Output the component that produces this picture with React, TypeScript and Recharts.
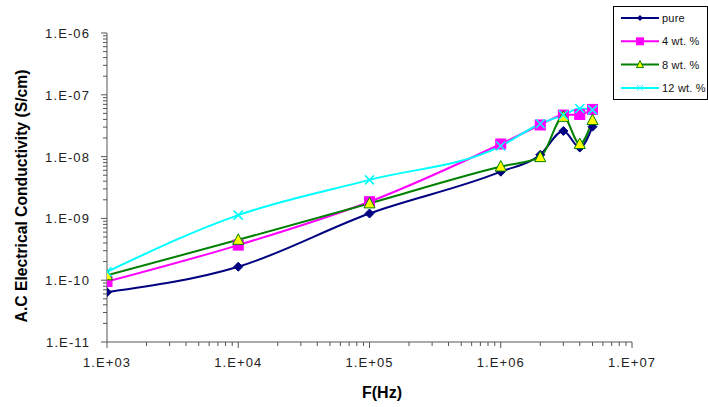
import { LineChart, Line, XAxis, YAxis } from 'recharts';

const freq = [1e3, 1e4, 1e5, 1e6, 2e6, 3e6, 4e6, 5e6];
const pure = [6.4e-11, 1.65e-10, 1.2e-9, 5.7e-9, 1.07e-8, 2.6e-8, 1.4e-8, 3.05e-8];
const wt4 = [9.5e-11, 3.7e-10, 1.86e-9, 1.6e-8, 3.25e-8, 4.7e-8, 4.8e-8, 5.8e-8];
const wt8 = [1.2e-10, 4.5e-10, 1.75e-9, 6.9e-9, 9.8e-9, 4.4e-8, 1.6e-8, 3.9e-8];
const wt12 = [1.37e-10, 1.13e-9, 4.2e-9, 1.48e-8, 3.4e-8, 4.7e-8, 6.0e-8, 5.7e-8];

const xDecades = [1e3, 1e4, 1e5, 1e6, 1e7];
const yDecades = [1e-11, 1e-10, 1e-9, 1e-8, 1e-7, 1e-6];
const xLabels = ['1.E+03', '1.E+04', '1.E+05', '1.E+06', '1.E+07'];
const yLabels = ['1.E-11', '1.E-10', '1.E-09', '1.E-08', '1.E-07', '1.E-06'];

const data = freq.map((f, i) => ({ f, pure: pure[i], wt4: wt4[i], wt8: wt8[i], wt12: wt12[i] }));

// major + minor (2..9) ticks for each decade
const withMinor = (decades: number[]) => {
  const out: number[] = [];
  decades.forEach((d, i) => {
    out.push(d);
    if (i < decades.length - 1) for (let k = 2; k <= 9; k++) out.push(d * k);
  });
  return out;
};
const xTicks = withMinor(xDecades);
const yTicks = withMinor(yDecades);

const isMajor = (v: number, list: number[]) => list.findIndex(d => Math.abs(v / d - 1) < 1e-6);

const font = '"Liberation Sans", Arial, sans-serif';

const XTick = (props: any) => {
  const { x, y, payload } = props;
  const idx = isMajor(payload.value, xDecades);
  return (
    <g>
      <line x1={x} x2={x} y1={y - 8} y2={y - 8 + (idx >= 0 ? 6 : 4)} stroke="#555" />
      {idx >= 0 && (
        <text x={x} y={y + 17} textAnchor="middle" fontSize={13} letterSpacing={1.1} fill="#222" fontFamily={font}>
          {xLabels[idx]}
        </text>
      )}
    </g>
  );
};

const YTick = (props: any) => {
  const { x, y, payload } = props;
  const idx = isMajor(payload.value, yDecades);
  return (
    <g>
      <line x1={x + 8} x2={x + 8 - (idx >= 0 ? 6 : 4)} y1={y} y2={y} stroke="#555" />
      {idx >= 0 && (
        <text x={x - 9} y={y + 5} textAnchor="end" fontSize={13} letterSpacing={1.1} fill="#222" fontFamily={font}>
          {yLabels[idx]}
        </text>
      )}
    </g>
  );
};

const Diamond = (p: any) => {
  const { cx, cy } = p;
  if (cx == null || cy == null) return null;
  const r = 4.5;
  return <path d={`M${cx},${cy - r}L${cx + r},${cy}L${cx},${cy + r}L${cx - r},${cy}Z`} fill="#000080" stroke="#000080" />;
};
const Square = (p: any) => {
  const { cx, cy } = p;
  if (cx == null || cy == null) return null;
  return <rect x={cx - 5} y={cy - 5} width={10} height={10} fill="#FF00FF" stroke="#FF00FF" />;
};
const Triangle = (p: any) => {
  const { cx, cy } = p;
  if (cx == null || cy == null) return null;
  return <path d={`M${cx},${cy - 6}L${cx + 5.5},${cy + 4.5}L${cx - 5.5},${cy + 4.5}Z`} fill="#FFFF00" stroke="#008000" strokeWidth={1} />;
};
const Cross = (p: any) => {
  const { cx, cy } = p;
  if (cx == null || cy == null) return null;
  const r = 4.5;
  return <path d={`M${cx - r},${cy - r}L${cx + r},${cy + r}M${cx - r},${cy + r}L${cx + r},${cy - r}`} stroke="#00FFFF" strokeWidth={1.5} />;
};

const legendItems = [
  { name: 'pure', color: '#000080', marker: 'diamond' },
  { name: '4 wt. %', color: '#FF00FF', marker: 'square' },
  { name: '8 wt. %', color: '#008000', marker: 'triangle' },
  { name: '12 wt. %', color: '#00FFFF', marker: 'cross' },
];

const LegendBox = () => (
  <div style={{ position: 'absolute', left: 613, top: 6, border: '1px solid #000', background: '#fff', width: 95, height: 94, boxSizing: 'border-box' }}>
    <svg width={93} height={92} style={{ display: 'block' }}>
      {legendItems.map((it, i) => {
        const cy = 11 + i * 23.3;
        const cx = 26;
        return (
          <g key={it.name}>
            <line x1={7} x2={45} y1={cy} y2={cy} stroke={it.color} strokeWidth={2} />
            {it.marker === 'diamond' && <path d={`M${cx},${cy - 3}L${cx + 3},${cy}L${cx},${cy + 3}L${cx - 3},${cy}Z`} fill={it.color} />}
            {it.marker === 'square' && <rect x={cx - 4} y={cy - 4} width={8} height={8} fill={it.color} />}
            {it.marker === 'triangle' && <path d={`M${cx},${cy - 4}L${cx + 3.5},${cy + 3}L${cx - 3.5},${cy + 3}Z`} fill="#FFFF00" stroke={it.color} />}
            {it.marker === 'cross' && <path d={`M${cx - 3},${cy - 3}L${cx + 3},${cy + 3}M${cx - 3},${cy + 3}L${cx + 3},${cy - 3}`} stroke={it.color} />}
            <text x={48} y={cy + 4} fontSize={11} letterSpacing={0.2} fill="#111" fontFamily={font}>{it.name}</text>
          </g>
        );
      })}
    </svg>
  </div>
);

export default function App() {
  return (
    <div style={{ position: 'absolute', left: 0, top: 0, width: 708, height: 407, overflow: 'hidden', background: '#fff' }}>
      <LineChart width={708} height={407} data={data} margin={{ top: 33, right: 76, bottom: 0, left: 0 }}>
        <XAxis
          dataKey="f"
          type="number"
          scale="log"
          domain={[1e3, 1e7]}
          ticks={xTicks}
          interval={0}
          tick={<XTick />}
          tickLine={false}
          stroke="#555"
          height={65}
          allowDataOverflow
        />
        <YAxis
          type="number"
          scale="log"
          domain={[1e-11, 1e-6]}
          ticks={yTicks}
          interval={0}
          tick={<YTick />}
          tickLine={false}
          stroke="#555"
          width={107}
          allowDataOverflow
        />
        <Line dataKey="pure" name="pure" type="monotone" stroke="#000080" strokeWidth={2} dot={<Diamond />} isAnimationActive={false} />
        <Line dataKey="wt4" name="4 wt. %" type="monotone" stroke="#FF00FF" strokeWidth={2} dot={<Square />} isAnimationActive={false} />
        <Line dataKey="wt8" name="8 wt. %" type="monotone" stroke="#008000" strokeWidth={2} dot={<Triangle />} isAnimationActive={false} />
        <Line dataKey="wt12" name="12 wt. %" type="monotone" stroke="#00FFFF" strokeWidth={2} dot={<Cross />} isAnimationActive={false} />
      </LineChart>
      <LegendBox />
      <div style={{ position: 'absolute', left: 22, top: 196, transform: 'translate(-50%, -50%) rotate(-90deg)', whiteSpace: 'nowrap', fontFamily: font, fontWeight: 'bold', fontSize: 15.7 }}>
        A.C Electrical Conductivity (S/cm)
      </div>
      <div style={{ position: 'absolute', left: 382, top: 393, transform: 'translate(-50%, -50%)', whiteSpace: 'nowrap', fontFamily: font, fontWeight: 'bold', fontSize: 16 }}>
        F(Hz)
      </div>
    </div>
  );
}
